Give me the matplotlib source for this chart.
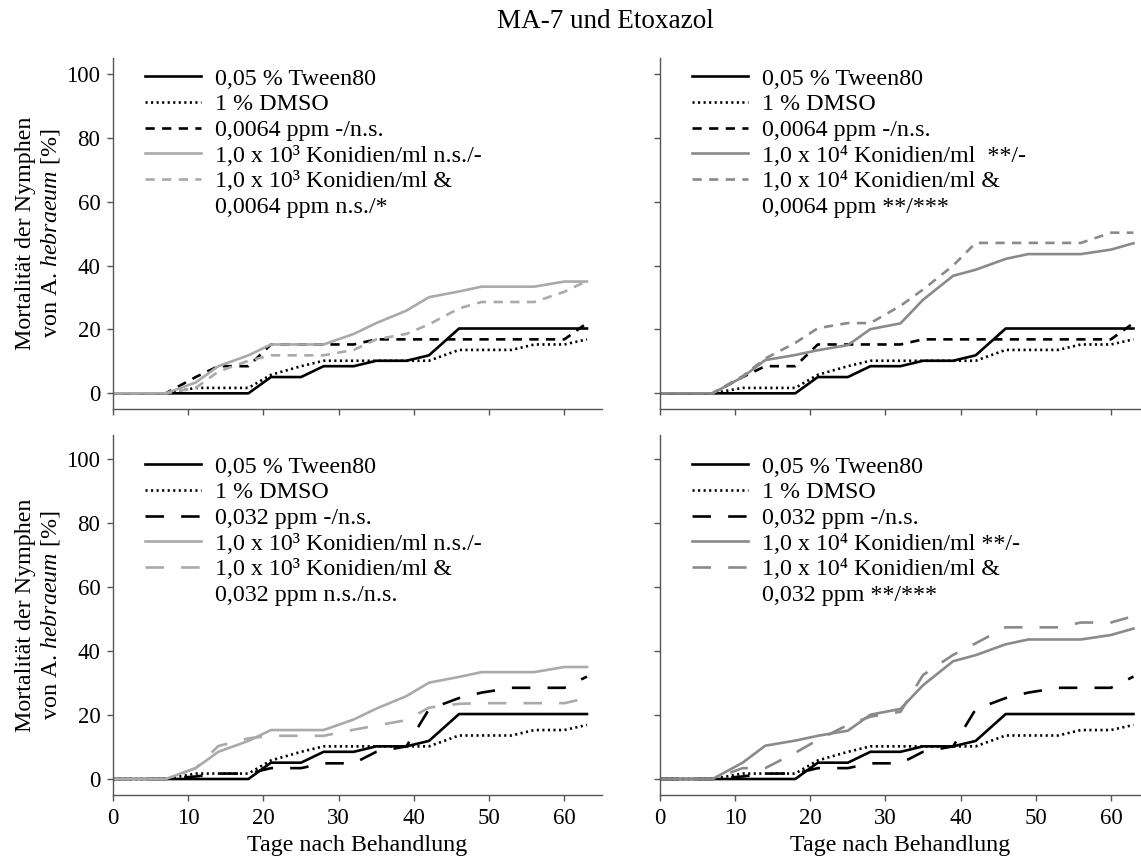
import numpy as np
import matplotlib
matplotlib.use("Agg")
import matplotlib.pyplot as plt
from matplotlib.lines import Line2D

plt.rcParams['font.family'] = ['Liberation Serif', 'DejaVu Serif']
plt.rcParams['mathtext.fontset'] = 'custom'
plt.rcParams['mathtext.rm'] = 'Liberation Serif'
plt.rcParams['mathtext.it'] = 'Liberation Serif:italic'

# Tage nach Behandlung (Boniturtermine)
tage = [0, 7, 11, 14, 18, 21, 25, 28, 32, 35, 39, 42, 46, 49, 53, 56, 60, 63]

# Kontrollen
tween80 = [0, 0, 0, 0, 0, 5.1, 5.1, 8.5, 8.5, 10.2, 10.2, 11.9, 20.3, 20.3, 20.3, 20.3, 20.3, 20.3]
dmso = [0, 0, 1.7, 1.7, 1.7, 5.8, 8.5, 10.2, 10.2, 10.2, 10.2, 10.2, 13.6, 13.6, 13.6, 15.3, 15.3, 16.9]

# Etoxazol allein
etox_0064 = [0, 0, 5.1, 8.5, 8.5, 15.3, 15.3, 15.3, 15.3, 16.9, 16.9, 16.9, 16.9, 16.9, 16.9, 16.9, 16.9, 22.0]
etox_032 = [0, 0, 0.8, 1.7, 1.7, 3.4, 3.4, 4.9, 4.9, 8.5, 10.2, 21.8, 25.3, 27.0, 28.5, 28.5, 28.5, 32.0]

# MA-7 allein
ma7_1e3 = [0, 0, 3.4, 8.5, 11.9, 15.3, 15.3, 15.3, 18.6, 22.0, 25.9, 30.1, 31.9, 33.4, 33.4, 33.4, 35.0, 35.0]
ma7_1e4 = [0, 0, 5.1, 10.4, 12.0, 13.5, 15.1, 20.1, 21.9, 29.3, 36.8, 38.7, 42.1, 43.6, 43.6, 43.6, 45.0, 47.0]

# Kombinationen
kombi_1e3_0064 = [0, 0, 1.7, 6.8, 10.2, 11.9, 11.9, 11.9, 13.6, 16.9, 18.6, 21.6, 26.6, 28.6, 28.6, 28.6, 31.8, 35.2]
kombi_1e4_0064 = [0, 0, 5.4, 10.9, 15.8, 20.4, 22.0, 22.0, 27.4, 32.5, 40.0, 47.1, 47.1, 47.1, 47.1, 47.1, 50.3, 50.3]
kombi_1e3_032 = [0, 0, 3.4, 10.3, 12.7, 13.5, 13.5, 13.5, 15.4, 16.7, 18.4, 22.3, 23.5, 23.7, 23.7, 23.7, 23.7, 25.3]
kombi_1e4_032 = [0, 0, 3.4, 3.4, 8.2, 12.2, 16.9, 19.5, 21.0, 32.5, 38.8, 42.4, 47.4, 47.4, 47.4, 48.9, 48.9, 50.9]

hell = '#aaaaaa'
dunkel = '#8a8a8a'
kurz = (0, (3.5, 2.8))
lang = (0, (7, 6.5))
punkt = (0, (0.8, 1.3))
lw = 1.9
fs_tick = 16.5
fs_text = 17.3

W, H = 1141, 863


def box(x0, y0, x1, y1):
    return [x0 / W, 1 - y1 / H, (x1 - x0) / W, (y1 - y0) / H]


fig = plt.figure(figsize=(W / 100, H / 100), dpi=100)

# (Position, x-Ende, y-Ende, Etoxazol, MA-7, Kombination, Grauton, Strichart, Legende, Legendenoberkante)
panels = [
    (box(113, 58, 602, 409.3), 65, 105, etox_0064, ma7_1e3, kombi_1e3_0064, hell, kurz,
     ['0,05 % Tween80', '1 % DMSO', '0,0064 ppm -/n.s.',
      '1,0 x 10³ Konidien/ml n.s./-', '1,0 x 10³ Konidien/ml &', '0,0064 ppm n.s./*'], 68),
    (box(660, 58, 1141, 409.3), 64, 105, etox_0064, ma7_1e4, kombi_1e4_0064, dunkel, kurz,
     ['0,05 % Tween80', '1 % DMSO', '0,0064 ppm -/n.s.',
      '1,0 x 10⁴ Konidien/ml  **/-', '1,0 x 10⁴ Konidien/ml &', '0,0064 ppm **/***'], 68),
    (box(113, 435, 602, 795), 65, 107.5, etox_032, ma7_1e3, kombi_1e3_032, hell, lang,
     ['0,05 % Tween80', '1 % DMSO', '0,032 ppm -/n.s.',
      '1,0 x 10³ Konidien/ml n.s./-', '1,0 x 10³ Konidien/ml &', '0,032 ppm n.s./n.s.'], 456),
    (box(660, 435, 1141, 795), 64, 107.5, etox_032, ma7_1e4, kombi_1e4_032, dunkel, lang,
     ['0,05 % Tween80', '1 % DMSO', '0,032 ppm -/n.s.',
      '1,0 x 10⁴ Konidien/ml **/-', '1,0 x 10⁴ Konidien/ml &', '0,032 ppm **/***'], 456),
]

for i, (pos, xmax, ymax, etox, ma7, kombi, grau, strich, labels, leg_top) in enumerate(panels):
    ax = fig.add_axes(pos)
    h1, = ax.plot(tage, tween80, color='black', lw=lw, ls='-')
    h2, = ax.plot(tage, dmso, color='black', lw=lw, ls=punkt)
    h3, = ax.plot(tage, etox, color='black', lw=lw, ls=strich)
    h4, = ax.plot(tage, ma7, color=grau, lw=lw, ls='-')
    h5, = ax.plot(tage, kombi, color=grau, lw=lw, ls=strich)
    leer = Line2D([], [], color='none')

    ax.set_xlim(0, xmax)
    ax.set_ylim(-5, ymax)
    ax.set_xticks(range(0, 61, 10))
    ax.set_yticks(range(0, 101, 20))
    for s in ['top', 'right']:
        ax.spines[s].set_visible(False)
    for s in ['left', 'bottom']:
        ax.spines[s].set_color('#555555')
        ax.spines[s].set_linewidth(1.0)
    ax.tick_params(direction='out', length=4, width=1.0, color='#555555',
                   labelsize=fs_tick, pad=5)

    if i < 2:
        ax.tick_params(labelbottom=False)
    else:
        ax.set_xlabel('Tage nach Behandlung', fontsize=fs_text, labelpad=5)
    if i % 2 == 1:
        ax.tick_params(labelleft=False)
    else:
        ax.set_ylabel('Mortalität der Nymphen\nvon A. $\\it{hebraeum}$ [%]',
                      fontsize=fs_text, labelpad=3, linespacing=1.2)

    x_leg = 32 / (pos[2] * W)
    y_leg = 1 - (leg_top - (H - (pos[1] + pos[3]) * H)) / (pos[3] * H)
    ax.legend([h1, h2, h3, h4, h5, leer], labels, loc='upper left',
              bbox_to_anchor=(x_leg, y_leg),
              frameon=False, fontsize=fs_text, handlelength=2.35, handletextpad=0.55,
              labelspacing=0.16, borderpad=0, borderaxespad=0)

fig.text(0.531, 1 - 22 / H, 'MA-7 und Etoxazol', ha='center', va='center', fontsize=19.5)

fig.savefig('out.png', dpi=100)
